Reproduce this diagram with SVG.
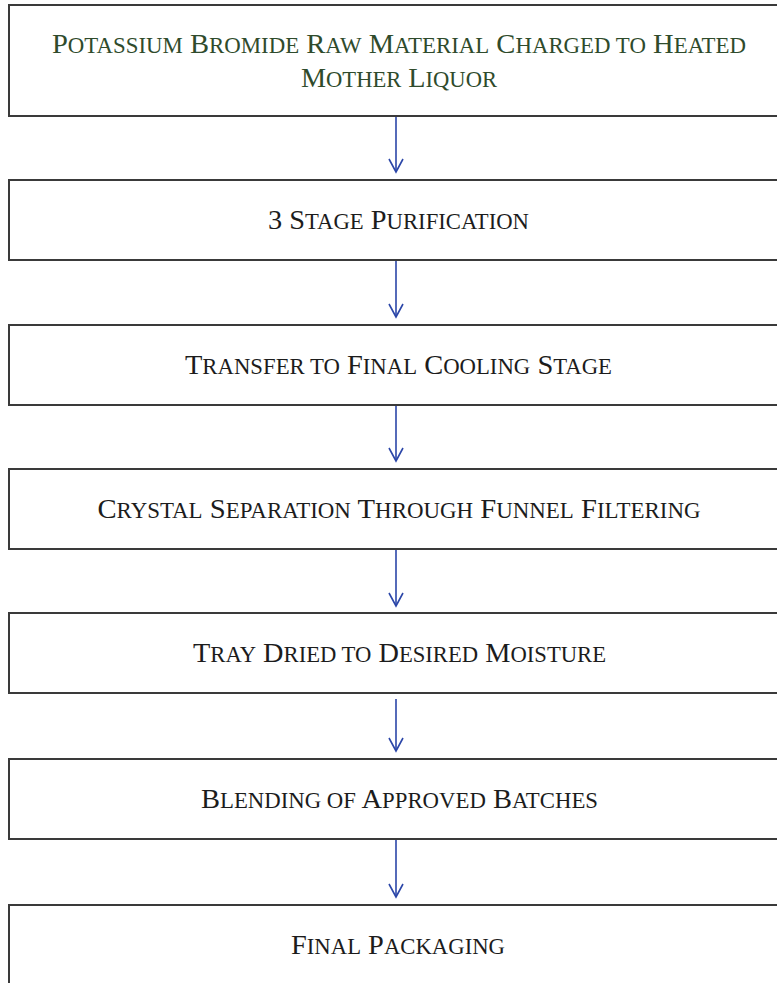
<svg xmlns="http://www.w3.org/2000/svg" width="777" height="983" viewBox="0 0 777 983">
<defs>
<style>
.box{fill:#fff;stroke:#3a3a3a;stroke-width:2}
.t{font-family:"Liberation Serif","Times New Roman",serif;font-size:28px;fill:#1c1c1c;text-anchor:middle}
.s{font-size:22.4px}
.g{fill:#2f4b2c}
.c{stroke:#2b46a8;stroke-width:1.6;fill:none}
</style>
<marker id="ah" markerWidth="16" markerHeight="16" refX="14" refY="8" orient="auto" markerUnits="userSpaceOnUse" viewBox="0 0 16 16">
<path d="M1,1 L14,8 L1,15" fill="none" stroke="#2b46a8" stroke-width="1.6"/>
</marker>
</defs>
<rect width="777" height="983" fill="#fff"/>
<g id="connectors">
<line class="c" x1="396" y1="116" x2="396" y2="172" marker-end="url(#ah)"/>
<line class="c" x1="396" y1="260" x2="396" y2="317" marker-end="url(#ah)"/>
<line class="c" x1="396" y1="405" x2="396" y2="461" marker-end="url(#ah)"/>
<line class="c" x1="396" y1="549" x2="396" y2="606" marker-end="url(#ah)"/>
<line class="c" x1="396" y1="699" x2="396" y2="751" marker-end="url(#ah)"/>
<line class="c" x1="396" y1="839" x2="396" y2="897" marker-end="url(#ah)"/>
</g>
<g id="n1">
<rect class="box" x="9" y="5" width="790" height="111"/>
<text class="t g" x="399" y="53" textLength="694" lengthAdjust="spacingAndGlyphs">P<tspan class="s">OTASSIUM</tspan> B<tspan class="s">ROMIDE</tspan> R<tspan class="s">AW</tspan> M<tspan class="s">ATERIAL</tspan> C<tspan class="s">HARGED TO</tspan> H<tspan class="s">EATED</tspan></text>
<text class="t g" x="399" y="87" textLength="196" lengthAdjust="spacingAndGlyphs">M<tspan class="s">OTHER</tspan> L<tspan class="s">IQUOR</tspan></text>
</g>
<g id="n2">
<rect class="box" x="9" y="180" width="790" height="80"/>
<text class="t" x="398.5" y="229" textLength="261" lengthAdjust="spacingAndGlyphs">3 S<tspan class="s">TAGE</tspan> P<tspan class="s">URIFICATION</tspan></text>
</g>
<g id="n3">
<rect class="box" x="9" y="325" width="790" height="80"/>
<text class="t" x="398.5" y="374" textLength="427" lengthAdjust="spacingAndGlyphs">T<tspan class="s">RANSFER TO</tspan> F<tspan class="s">INAL</tspan> C<tspan class="s">OOLING</tspan> S<tspan class="s">TAGE</tspan></text>
</g>
<g id="n4">
<rect class="box" x="9" y="469" width="790" height="80"/>
<text class="t" x="399" y="518" textLength="603" lengthAdjust="spacingAndGlyphs">C<tspan class="s">RYSTAL</tspan> S<tspan class="s">EPARATION</tspan> T<tspan class="s">HROUGH</tspan> F<tspan class="s">UNNEL</tspan> F<tspan class="s">ILTERING</tspan></text>
</g>
<g id="n5">
<rect class="box" x="9" y="613" width="790" height="80"/>
<text class="t" x="399.5" y="662" textLength="413" lengthAdjust="spacingAndGlyphs">T<tspan class="s">RAY</tspan> D<tspan class="s">RIED TO</tspan> D<tspan class="s">ESIRED</tspan> M<tspan class="s">OISTURE</tspan></text>
</g>
<g id="n6">
<rect class="box" x="9" y="759" width="790" height="80"/>
<text class="t" x="399.5" y="808" textLength="397" lengthAdjust="spacingAndGlyphs">B<tspan class="s">LENDING OF</tspan> A<tspan class="s">PPROVED</tspan> B<tspan class="s">ATCHES</tspan></text>
</g>
<g id="n7">
<rect class="box" x="9" y="905" width="790" height="100"/>
<text class="t" x="398" y="954" textLength="214" lengthAdjust="spacingAndGlyphs">F<tspan class="s">INAL</tspan> P<tspan class="s">ACKAGING</tspan></text>
</g>
</svg>
